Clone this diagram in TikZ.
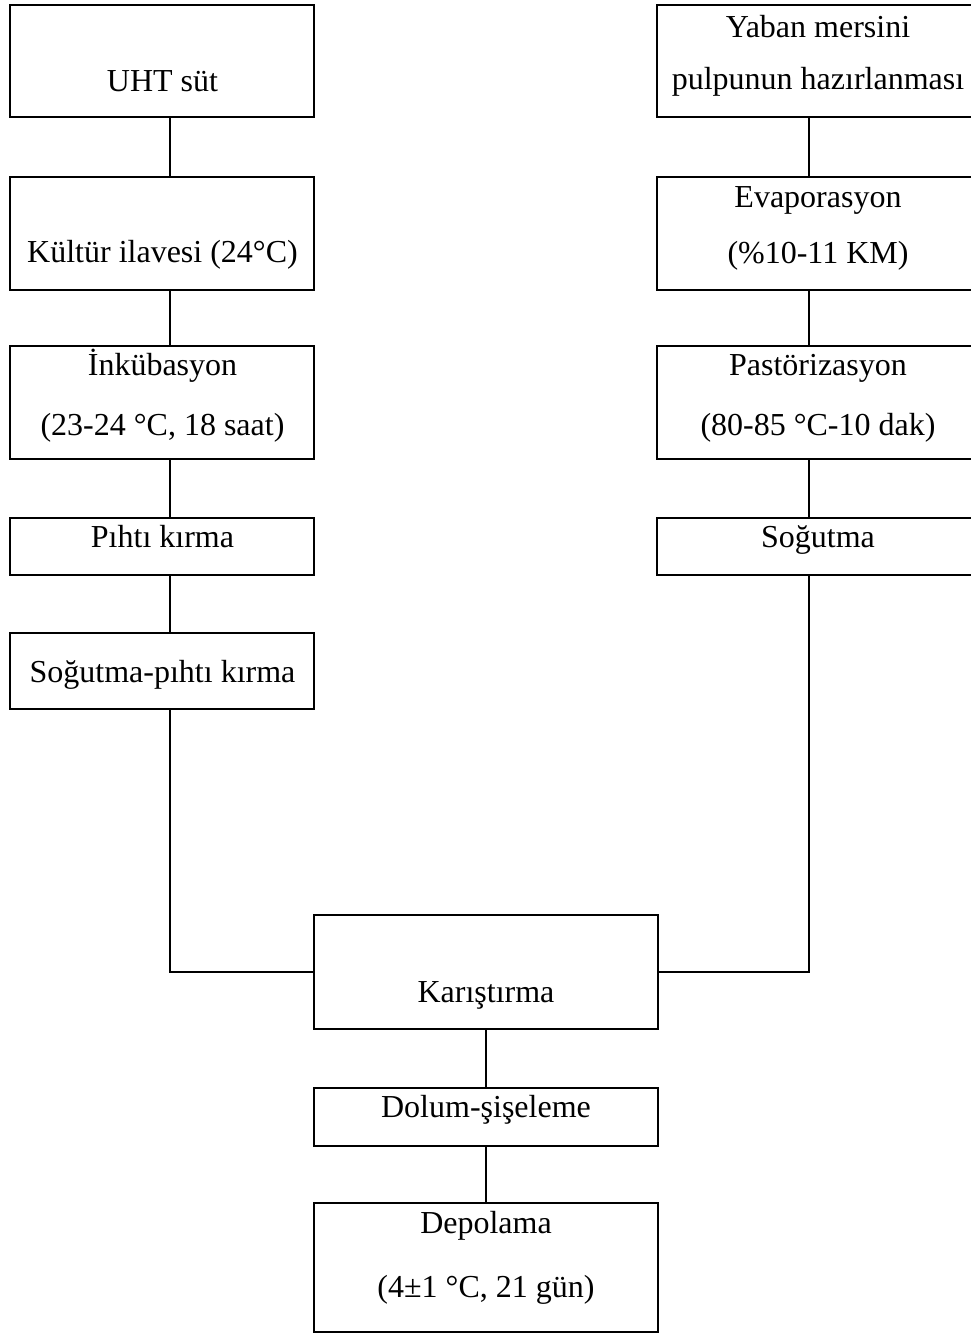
\documentclass[tikz,border=0pt]{standalone}
\usepackage{fontspec}
\setmainfont{Liberation Serif}
\usetikzlibrary{calc}
\begin{document}
\begin{tikzpicture}[x=1pt,y=-1pt,
  box/.style={draw=black,line width=2.9pt,rectangle,inner sep=0pt,minimum width=#1},
  txt/.style={anchor=base,inner sep=0pt,font=\fontsize{32}{38}\selectfont},
  conn/.style={draw=black,line width=2.9pt}]
\useasboundingbox (0,0) rectangle (971,1336);
% reference x positions for connectors
\coordinate (lx) at (170,0);
\coordinate (rx) at (809,0);
% left column
\node[box=304pt,minimum height=112pt] (uht) at (162,61) {};
\node[box=304pt,minimum height=113pt] (kultur) at (162,233.5) {};
\node[box=304pt,minimum height=113pt] (inkub) at (162,402.5) {};
\node[box=304pt,minimum height=57pt] (pihti) at (162,546.5) {};
\node[box=304pt,minimum height=76pt] (sogpihti) at (162,671) {};
% right column
\node[box=316pt,minimum height=112pt] (yaban) at (815,61) {};
\node[box=316pt,minimum height=113pt] (evap) at (815,233.5) {};
\node[box=316pt,minimum height=113pt] (past) at (815,402.5) {};
\node[box=316pt,minimum height=57pt] (sogutma) at (815,546.5) {};
% centre column
\node[box=344pt,minimum height=114pt] (kar) at (486,972) {};
\node[box=344pt,minimum height=58pt] (dolum) at (486,1117) {};
\node[box=344pt,minimum height=129pt] (depo) at (486,1267.5) {};
% texts
\node[txt] (t1) at (162.5,91) {UHT süt};
\node[txt] (t2) at (162.5,262) {Kültür ilavesi (24°C)};
\node[txt] (t3a) at (162.5,375) {İnkübasyon};
\node[txt] (t3b) at (162.5,435) {(23-24 °C, 18 saat)};
\node[txt] (t4) at (162.5,547) {Pıhtı kırma};
\node[txt] (t5) at (162.5,682) {Soğutma-pıhtı kırma};
\node[txt] (r1a) at (818,37) {Yaban mersini};
\node[txt] (r1b) at (818,89) {pulpunun hazırlanması};
\node[txt] (r2a) at (818,207) {Evaporasyon};
\node[txt] (r2b) at (818,263) {(\%10-11 KM)};
\node[txt] (r3a) at (818,375) {Pastörizasyon};
\node[txt] (r3b) at (818,435) {(80-85 °C-10 dak)};
\node[txt] (r4) at (818,547) {Soğutma};
\node[txt] (c1) at (486,1002) {Karıştırma};
\node[txt] (c2) at (486,1117) {Dolum-şişeleme};
\node[txt] (c3a) at (486,1233) {Depolama};
\node[txt] (c3b) at (486,1297) {(4±1 °C, 21 gün)};
% connectors
\draw[conn] (uht.south -| lx) -- (kultur.north -| lx);
\draw[conn] (kultur.south -| lx) -- (inkub.north -| lx);
\draw[conn] (inkub.south -| lx) -- (pihti.north -| lx);
\draw[conn] (pihti.south -| lx) -- (sogpihti.north -| lx);
\draw[conn] (sogpihti.south -| lx) |- (kar.west);
\draw[conn] (yaban.south -| rx) -- (evap.north -| rx);
\draw[conn] (evap.south -| rx) -- (past.north -| rx);
\draw[conn] (past.south -| rx) -- (sogutma.north -| rx);
\draw[conn] (sogutma.south -| rx) |- (kar.east);
\draw[conn] (kar.south) -- (dolum.north);
\draw[conn] (dolum.south) -- (depo.north);
\end{tikzpicture}
\end{document}
